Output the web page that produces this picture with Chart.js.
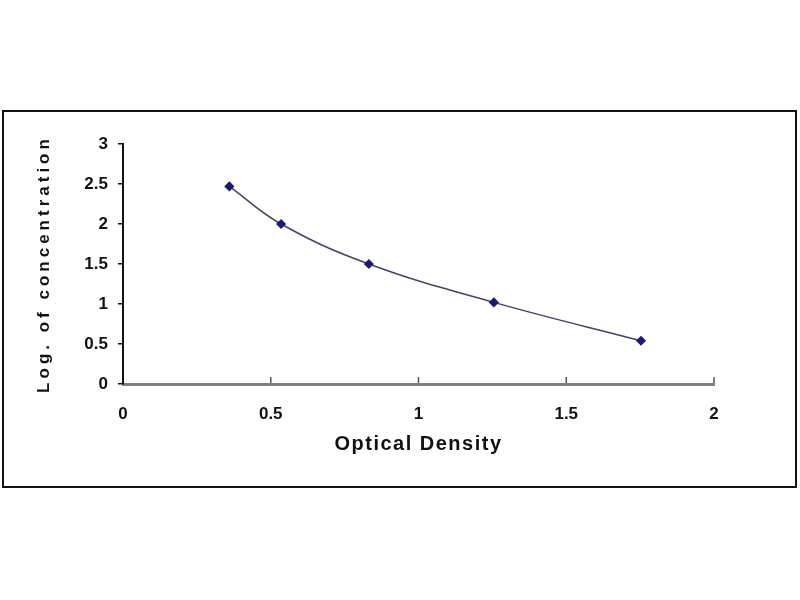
<!DOCTYPE html>
<html>
<head>
<meta charset="utf-8">
<script src="https://cdn.jsdelivr.net/npm/chart.js@4/dist/chart.umd.min.js"></script>
<style>
    html, body { margin: 0; padding: 0; background: #fff; }
    #frame {
        position: absolute;
        left: 2px;
        top: 110px;
        width: 791px;
        height: 374px;
        border: 2px solid #111;
    }
</style>
</head>
<body>
<div id="frame"><canvas id="graph"></canvas></div>
<script>
// standard curve
const opticalDensity = [0.36, 0.535, 0.832, 1.255, 1.753];
const logConcentration = [2.47, 2.0, 1.5, 1.02, 0.54];
const xTicks = [0, 0.5, 1, 1.5, 2];
const yTicks = [0, 0.5, 1, 1.5, 2, 2.5, 3];

const fontFamily = '"Liberation Sans", Arial, sans-serif';

// the titles in the picture are letter spaced
const titleSpacing = { x: '1.5px', y: '4px' };
const spacedTitle = {
    id: 'spacedTitle',
    beforeDraw(chart) {
        Object.keys(titleSpacing).forEach(id => {
            const scale = chart.scales[id];
            if (scale._spaced) return;
            const orig = scale.drawTitle;
            scale.drawTitle = function () {
                this.ctx.save();
                this.ctx.letterSpacing = titleSpacing[id];
                orig.call(this);
                this.ctx.restore();
            };
            scale._spaced = true;
        });
    }
};

// x ticks point up into the plot
const innerTicks = {
    id: 'innerTicks',
    afterDraw(chart) {
        const xs = chart.scales.x;
        const ctx = chart.ctx;
        const bottom = chart.chartArea.bottom;
        ctx.save();
        ctx.strokeStyle = '#555';
        ctx.lineWidth = 1.5;
        xs.ticks.forEach(t => {
            if (t.value === 0) return;
            const px = xs.getPixelForValue(t.value);
            ctx.beginPath();
            ctx.moveTo(px, bottom - 1);
            ctx.lineTo(px, bottom - 7);
            ctx.stroke();
        });
        ctx.restore();
    }
};

const points = opticalDensity.map((od, i) => ({ x: od, y: logConcentration[i] }));

const ctx = document.getElementById('graph').getContext('2d');
const dataChart = new Chart(ctx, {
    type: 'line',
    data: {
        datasets: [{
            data: points,
            borderColor: '#44445e',
            borderWidth: 1.5,
            tension: 0.4,
            pointStyle: 'rectRot',
            pointRadius: 4,
            pointBackgroundColor: '#1a1a6e',
            pointBorderColor: '#1a1a6e',
            fill: false,
        }]
    },
    plugins: [spacedTitle, innerTicks],
    options: {
        responsive: true,
        maintainAspectRatio: false,
        animation: false,
        layout: {
            padding: { left: 20, right: 81, top: 32, bottom: 22 }
        },
        plugins: {
            legend: { display: false },
            tooltip: { enabled: false },
        },
        scales: {
            x: {
                type: 'linear',
                min: 0,
                max: 2,
                afterBuildTicks: (scale) => {
                    scale.ticks = xTicks.map(v => ({ value: v }));
                },
                afterFit: (scale) => { scale.height = 80; },
                border: { color: '#808080', width: 3 },
                grid: { drawOnChartArea: false, drawTicks: false },
                ticks: {
                    padding: 20,
                    color: '#111',
                    font: { family: fontFamily, size: 17, weight: 'bold' },
                    callback: (value) => String(value),
                },
                title: {
                    display: true,
                    text: 'Optical Density',
                    color: '#111',
                    padding: { top: 0, bottom: 8 },
                    font: { family: fontFamily, size: 20, weight: 'bold', lineHeight: 1.2 },
                },
            },
            y: {
                type: 'linear',
                min: 0,
                max: 3,
                afterBuildTicks: (scale) => {
                    scale.ticks = yTicks.map(v => ({ value: v }));
                },
                afterFit: (scale) => { scale.width = 99; },
                border: { color: '#111', width: 2 },
                grid: { drawOnChartArea: false, drawTicks: true, tickLength: 5, color: '#111', lineWidth: 1.5 },
                ticks: {
                    padding: 10,
                    color: '#111',
                    font: { family: fontFamily, size: 17, weight: 'bold' },
                    callback: (value) => String(value),
                },
                title: {
                    display: true,
                    text: 'Log. of concentration',
                    color: '#111',
                    padding: { top: 10, bottom: 0 },
                    font: { family: fontFamily, size: 17, weight: 'bold', lineHeight: 1.2 },
                },
            },
        },
    }
});
</script>
</body>
</html>
